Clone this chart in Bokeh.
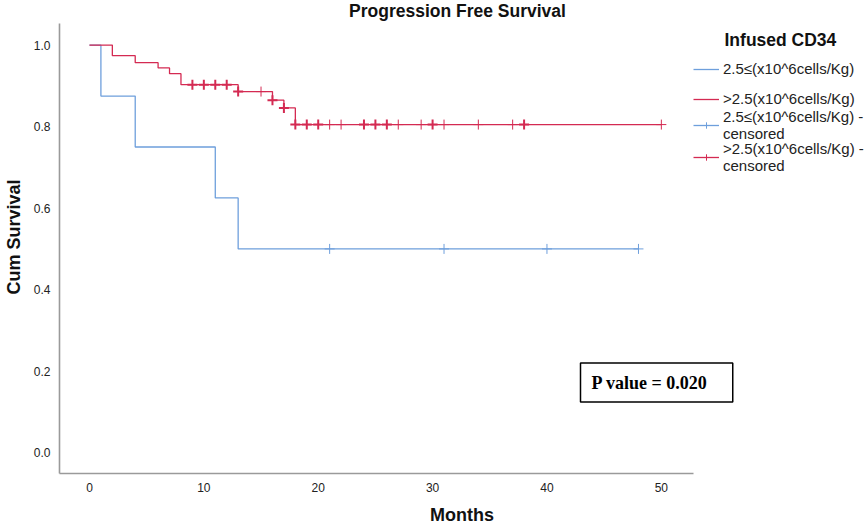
import numpy as np
from bokeh.plotting import figure
from bokeh.models import (Range1d, FixedTicker, PrintfTickFormatter, Label,
                          Legend, LegendItem, ColumnDataSource)
from bokeh.embed import file_html
from bokeh.resources import INLINE

# ---------------- data ----------------
title_text = "Progression Free Survival"
x_label = "Months"
y_label = "Cum Survival"
legend_title = "Infused CD34"
group_labels = ["2.5\u2264(x10^6cells/Kg)", ">2.5(x10^6cells/Kg)"]
censor_suffix = " -\ncensored"
p_value_text = "P value = 0.020"

x_ticks = [0, 10, 20, 30, 40, 50]
y_ticks = [0.0, 0.2, 0.4, 0.6, 0.8, 1.0]

low_times = [0, 1, 4, 11, 13, 48]
low_surv = [1.0, 0.875, 0.75, 0.625, 0.5, 0.5]
low_censor_times = [21, 31, 40, 48]
low_censor_counts = [1, 1, 1, 1]

high_times = [0, 2, 4, 6, 7, 8, 13, 16, 17, 18, 50]
high_surv = [1.0, 0.974, 0.957, 0.944, 0.930, 0.903, 0.886, 0.865, 0.846, 0.805, 0.805]
high_censor_times = [9, 10, 11, 12, 13, 15, 16, 17, 18, 19, 20, 21, 22, 24, 25, 26,
                     27, 29, 30, 31, 34, 37, 38, 50]
high_censor_counts = [2, 2, 2, 2, 2, 1, 2, 2, 3, 2, 2, 1, 1, 2, 2, 2,
                      1, 1, 2, 1, 1, 1, 2, 1]

# axis extents (data units)
X_AXIS = (-2.62, 52.83)
Y_AXIS = (-0.051, 1.053)

BLUE = "#6e9fdc"
RED = "#d42a52"
FONT = "Liberation Sans"

W, H = 864, 528
LEFT, BOTTOM = 58, 55
FRAME_W, FRAME_H = W - LEFT, H - BOTTOM
AXIS_W_PX, AXIS_H_PX = 635, 450   # visible axis lengths in px


def surv_at(times, surv, t):
    idx = np.searchsorted(np.asarray(times), np.asarray(t), side="right") - 1
    return np.asarray(surv)[idx]


def censor_source(times, surv, ctimes, counts):
    counts = np.asarray(counts)
    return ColumnDataSource(dict(
        x=ctimes,
        y=surv_at(times, surv, ctimes),
        lw=np.where(counts > 1, 2.0, 1.0),
    ))


x_per_px = (X_AXIS[1] - X_AXIS[0]) / AXIS_W_PX
y_per_px = (Y_AXIS[1] - Y_AXIS[0]) / AXIS_H_PX
p = figure(width=W, height=H,
           x_range=Range1d(X_AXIS[0], X_AXIS[0] + FRAME_W * x_per_px),
           y_range=Range1d(Y_AXIS[0], Y_AXIS[0] + FRAME_H * y_per_px),
           output_backend="svg", toolbar_location=None,
           min_border_left=LEFT, min_border_right=0,
           min_border_top=0, min_border_bottom=BOTTOM)
p.outline_line_color = None
p.xgrid.visible = False
p.ygrid.visible = False
p.background_fill_color = "white"
p.border_fill_color = "white"

for ax in (p.xaxis[0], p.yaxis[0]):
    ax.axis_line_color = "#9a9a9a"
    ax.axis_line_width = 1.6
    ax.major_tick_line_color = None
    ax.minor_tick_line_color = None
    ax.major_label_text_font = FONT
    ax.major_label_text_font_size = "12px"
    ax.major_label_text_color = "#222222"
    ax.axis_label_text_font = FONT
    ax.axis_label_text_font_size = "18px"
    ax.axis_label_text_font_style = "bold"
    ax.axis_label_text_color = "#111111"

p.xaxis.bounds = X_AXIS
p.yaxis.bounds = Y_AXIS
p.xaxis.ticker = FixedTicker(ticks=x_ticks)
p.xaxis.formatter = PrintfTickFormatter(format="%d")
p.xaxis.major_label_standoff = 3
p.xaxis.axis_label = x_label
p.xaxis.axis_label_standoff = 10
p.yaxis.ticker = FixedTicker(ticks=y_ticks)
p.yaxis.formatter = PrintfTickFormatter(format="%.1f")
p.yaxis.major_label_standoff = 3
p.yaxis.axis_label = y_label
p.yaxis.axis_label_standoff = 7

# survival curves
r_low = p.step(low_times, low_surv, mode="after", line_color=BLUE, line_width=1.3)
r_high = p.step(high_times, high_surv, mode="after", line_color=RED, line_width=1.3)

# censor marks
src_low_c = censor_source(low_times, low_surv, low_censor_times, low_censor_counts)
src_high_c = censor_source(high_times, high_surv, high_censor_times, high_censor_counts)
r_low_c = p.scatter("x", "y", source=src_low_c, marker="cross", size=10,
                    line_color=BLUE, line_width="lw")
r_high_c = p.scatter("x", "y", source=src_high_c, marker="cross", size=10,
                     line_color=RED, line_width="lw")


def add_text(text, x, y, size, align="center"):
    p.add_layout(Label(x=x, y=y, x_units="screen", y_units="screen", text=text,
                       text_font=FONT, text_font_size=size, text_font_style="bold",
                       text_align=align, text_baseline="middle",
                       text_color="#111111"))

add_text(title_text, 398, 463, "17.5px")
add_text(legend_title, 665, 434, "17.5px", align="left")

p.add_layout(Label(x=521, y=91, x_units="screen", y_units="screen",
                   text=p_value_text, text_font="Liberation Serif",
                   text_font_size="18px", text_font_style="bold",
                   text_baseline="middle", text_color="black",
                   border_line_color="black", border_line_width=1.5,
                   background_fill_color="white",
                   padding=dict(left=11, right=25, top=10, bottom=9)))

# legends, one per entry
entries = [
    (group_labels[0], [r_low], None, 396),
    (group_labels[1], [r_high], None, 366),
    (group_labels[0] + censor_suffix, [r_low, r_low_c], None, 331),
    (group_labels[1] + censor_suffix, [r_high, r_high_c], 5, 299),
]
for label, rends, idx, fy in entries:
    leg = Legend(items=[LegendItem(label=label, renderers=rends, index=idx)],
                 location=(634, fy), border_line_color=None,
                 background_fill_alpha=0, padding=0, margin=0, spacing=0,
                 glyph_width=26, glyph_height=16, label_standoff=4,
                 label_text_font=FONT, label_text_font_size="15px",
                 label_text_color="#222222", click_policy="none")
    p.add_layout(leg)

open("out.html", "w").write(file_html(p, INLINE))
